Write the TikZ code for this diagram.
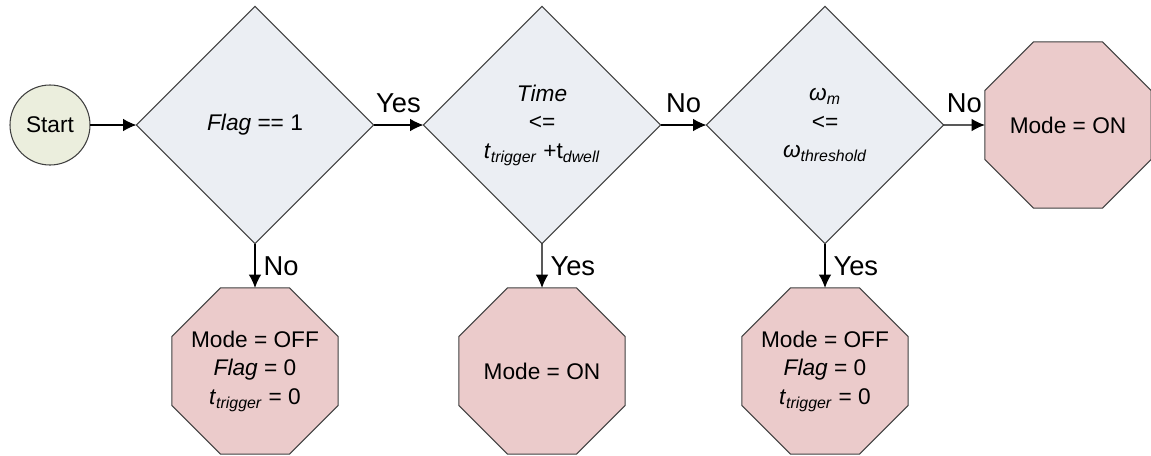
\documentclass[tikz,border=0pt]{standalone}
\usepackage{fontspec}
\setmainfont{Liberation Sans}
\usepackage{tikz}
\usetikzlibrary{positioning,arrows.meta,shapes.geometric}
\definecolor{startfill}{HTML}{EBEEDD}
\definecolor{testfill}{HTML}{EBEEF3}
\definecolor{modefill}{HTML}{EBCBCB}
\definecolor{edgegray}{HTML}{404040}
\tikzset{>={Latex[length=10pt,width=9.5pt]}}
\tikzset{
  startnode/.style={circle,draw=edgegray,fill=startfill,minimum size=60pt,inner sep=0pt,outer sep=0pt},
  testnode/.style={diamond,draw=edgegray,fill=testfill,minimum width=178pt,minimum height=178pt,inner sep=0pt,outer sep=0pt,aspect=1},
  modenode/.style={regular polygon,regular polygon sides=8,draw=edgegray,fill=modefill,minimum size=135pt,inner sep=0pt,outer sep=0pt},
  edgelabel/.style={font=\fontsize{20.5}{24}\selectfont,inner sep=2pt},
}
\newcommand{\ttrig}{\textit{t}\textsubscript{\textit{trigger}}}

\begin{document}
\begin{tikzpicture}[x=0.75pt,y=-0.75pt,every text node part/.style={align=center},
    font=\fontsize{17}{21.5}\selectfont,line width=0.8pt]
      \useasboundingbox (0,0) rectangle (1151,455);

      \node[startnode] (StartN) at (50,125)   {Start};

      \node[testnode]  (FlagD)  at (255,125)  {\textit{Flag} == 1};
      \node[testnode]  (TimeD)  at (542,125)  {\textit{Time}\\<=\\\ttrig{} +t\textsubscript{\textit{dwell}}};
      \node[testnode]  (OmegaD) at (825,125)  {\textit{ω}\textsubscript{\textit{m}}\\<=\\\textit{ω}\textsubscript{\textit{threshold}}};

      \node[modenode]  (OnR)    at (1068,125) {Mode = ON};

      \node[modenode,label={center:{Mode = OFF\\\textit{Flag} = 0\\\ttrig{} = 0}}] (OffA) at (255,371) {};
      \node[modenode]  (OnB)    at (542,371)  {Mode = ON};
      \node[modenode,label={center:{Mode = OFF\\\textit{Flag} = 0\\\ttrig{} = 0}}] (OffB) at (825,371) {};

      \draw [->] (StartN.east) -- (FlagD.west);
      \draw [->] (FlagD.east)  -- node[above=7pt,edgelabel] {Yes} (TimeD.west);
      \draw [->] (TimeD.east)  -- node[above=7pt,edgelabel] {No}  (OmegaD.west);
      \draw [->] (OmegaD.east) -- node[above=7pt,edgelabel] {No}  (OnR.west);

      \draw [->] (FlagD.south)  -- node[right=4pt,edgelabel] {No}  (OffA.north);
      \draw [->] (TimeD.south)  -- node[right=4pt,edgelabel] {Yes} (OnB.north);
      \draw [->] (OmegaD.south) -- node[right=4pt,edgelabel] {Yes} (OffB.north);
    \end{tikzpicture}
\end{document}
